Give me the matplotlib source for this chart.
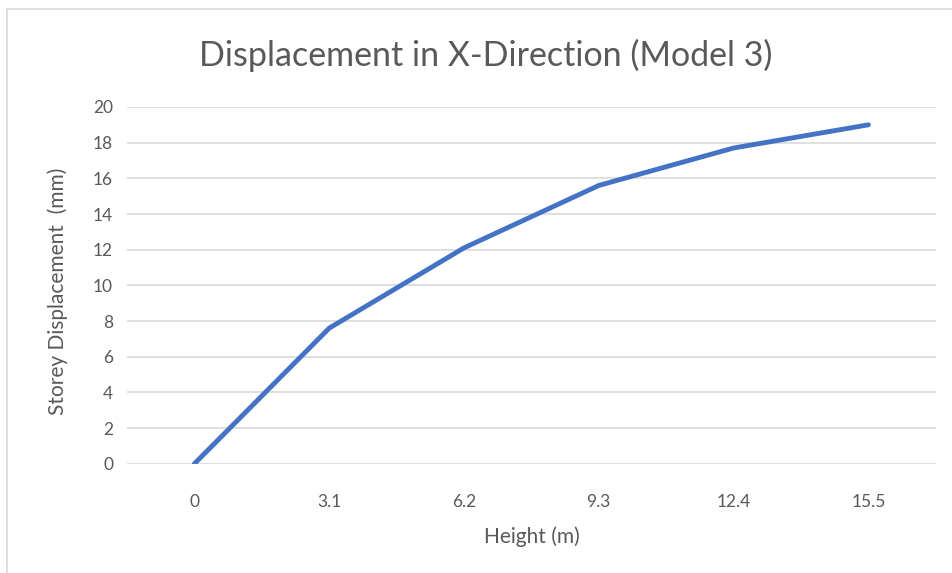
import numpy as np
import matplotlib.pyplot as plt
from matplotlib.patches import Rectangle

# данные графика
heights = ["0", "3.1", "6.2", "9.3", "12.4", "15.5"]
displacement = [0, 7.6, 12.1, 15.6, 17.7, 19.0]
y_ticks = [0, 2, 4, 6, 8, 10, 12, 14, 16, 18, 20]

plt.rcParams['font.family'] = ['Lato', 'DejaVu Sans']
text_color = '#595959'

fig = plt.figure(figsize=(9.52, 5.73), dpi=100)
ax = fig.add_axes([0.1334, 0.1907, 0.8496, 0.6226])

x = np.arange(len(heights))
ax.plot(x, displacement, color='#4472C4', linewidth=3.5, solid_capstyle='round', zorder=3)

ax.set_xlim(-0.5, len(heights) - 0.5)
ax.set_ylim(0, 20)
ax.set_yticks(y_ticks)
ax.set_xticks(x)
ax.set_xticklabels(heights)
ax.tick_params(axis='both', length=0, labelsize=12.5, labelcolor=text_color)
ax.tick_params(axis='x', pad=22)
ax.tick_params(axis='y', pad=10)

# сетка
ax.grid(axis='y', color='#D9D9D9', linewidth=1.2)
ax.set_axisbelow(True)
for s in ax.spines.values():
    s.set_visible(False)

ax.set_xlabel("Height (m)", fontsize=15, color=text_color, va='center')
ax.set_ylabel("Storey Displacement  (mm)", fontsize=15, color=text_color, va='center')
ax.xaxis.set_label_coords(0.5, -0.2055)
ax.yaxis.set_label_coords(-0.0853, 0.484)
fig.text(0.5105, 0.904, "Displacement in X-Direction (Model 3)", fontsize=24.5,
         color=text_color, ha='center', va='center')

# рамка диаграммы
fig.patches.append(Rectangle((7 / 952, -0.1), 1.2, 1.1 - 9 / 573, transform=fig.transFigure,
                             fill=False, edgecolor='#D9D9D9', linewidth=1.2))

fig.savefig("out.png", dpi=100)
